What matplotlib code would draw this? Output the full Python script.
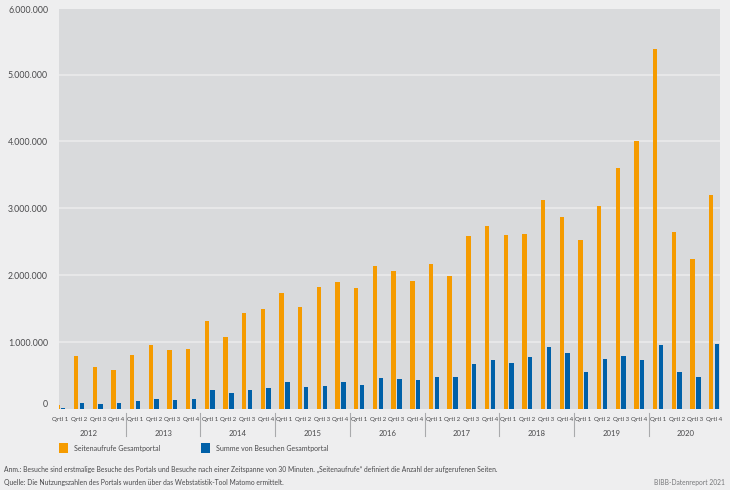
import matplotlib
matplotlib.use("Agg")
import matplotlib.pyplot as plt
from matplotlib.patches import Rectangle
from matplotlib.ticker import FuncFormatter
import numpy as np

years = ["2012","2013","2014","2015","2016","2017","2018","2019","2020"]
quarters = ["Qrtl 1","Qrtl 2","Qrtl 3","Qrtl 4"]
seitenaufrufe = [60000,795000,635000,590000, 805000,955000,885000,895000,
                 1312000,1082000,1433000,1502000, 1741000,1532000,1831000,1900000,
                 1816000,2134000,2065000,1915000, 2165000,1990000,2585000,2730000,
                 2605000,2615000,3130000,2870000, 2527000,3040000,3602000,4005000,
                 5388000,2647000,2244000,3194000]
besuche = [15000,85000,75000,85000, 120000,155000,135000,150000,
           279000,244000,284000,308000, 408000,333000,348000,398000,
           358000,468000,443000,428000, 478000,473000,677000,736000,
           692000,781000,930000,830000, 547000,746000,791000,731000,
           955000,547000,478000,975000]
series_names = ["Seitenaufrufe Gesamtportal","Summe von Besuchen Gesamtportal"]
y_ticks = [1000000,2000000,3000000,4000000,5000000]
note1 = "Anm.: Besuche sind erstmalige Besuche des Portals und Besuche nach einer Zeitspanne von 30 Minuten. „Seitenaufrufe“ definiert die Anzahl der aufgerufenen Seiten."
note2 = "Quelle: Die Nutzungszahlen des Portals wurden über das Webstatistik-Tool Matomo ermittelt."
source = "BIBB-Datenreport 2021"

W, H = 730, 490
BG, PLOT, ORANGE, BLUE, TXT = "#eeeeef", "#d9dadc", "#f59b00", "#0060a8", "#4a4a4c"
plt.rcParams["font.family"] = ["Lato", "DejaVu Sans"]

fig = plt.figure(figsize=(W/100, H/100), dpi=100, facecolor=BG)
left, right, top, bottom = 58.5, 720, 9, 409
ax = fig.add_axes([left/W, 1-bottom/H, (right-left)/W, (bottom-top)/H], facecolor=PLOT)
step = 18.68
x0 = 60.3
ax.set_xlim((left-x0)/step, (right-x0)/step)
ax.set_ylim(0, 5980000)
x = np.arange(len(seitenaufrufe))
bw = 4.4/step
off = 2.9/step
ax.bar(x-off, seitenaufrufe, bw, color=ORANGE, zorder=3)
ax.bar(x+off, besuche, bw, color=BLUE, zorder=3)
ax.set_axisbelow(True)
ax.yaxis.grid(True, color="#e9e9ea", lw=1.3, zorder=1)
for s in ax.spines.values():
    s.set_visible(False)
ax.set_yticks(y_ticks)
ax.yaxis.set_major_formatter(FuncFormatter(lambda v, p: f"{int(v):,}".replace(",", ".")))
ax.tick_params(axis="y", length=0, pad=7.5, labelsize=6.3, labelcolor=TXT)
ax.set_xticks(x)
ax.set_xticklabels(quarters*len(years), fontsize=4.5, color=TXT)
ax.tick_params(axis="x", length=0, pad=5.4)

tr = ax.get_xaxis_transform()
to_y = lambda py: (bottom-py)/(bottom-top)
ax.text(-0.64, to_y(404.5), "0", transform=tr, ha="right", va="center",
        fontsize=6.3, color=TXT, clip_on=False)
ax.text(-0.64, to_y(10.5), "6.000.000", transform=tr, ha="right", va="center",
        fontsize=6.3, color=TXT, clip_on=False)
for i, yr in enumerate(years):
    ax.text(4*i+1.5, to_y(433), yr, transform=tr, ha="center", va="center",
            fontsize=5.6, color=TXT, clip_on=False)
    if i:
        xs = 4*i-0.5
        ax.plot([xs, xs], [to_y(413), to_y(436)], transform=tr, color="#a9aaac",
                lw=0.8, clip_on=False)

fx = lambda p: p/W
fy = lambda p: 1-p/H
for px, col, name in [(58.5, ORANGE, series_names[0]), (200.5, BLUE, series_names[1])]:
    fig.add_artist(Rectangle((fx(px), fy(452.7)), 9.4/W, 9.4/H, transform=fig.transFigure, color=col, lw=0))
    fig.text(fx(px+15), fy(448), name, fontsize=5.0, color=TXT, va="center", ha="left")
fig.text(fx(4), fy(469.5), note1, fontsize=4.85, color=TXT, va="center", ha="left")
fig.text(fx(4), fy(482), note2, fontsize=4.85, color=TXT, va="center", ha="left")
fig.text(fx(725), fy(482.5), source, fontsize=4.8, color="#77787a", va="center", ha="right")
fig.savefig("out.png", dpi=100, facecolor=BG)
